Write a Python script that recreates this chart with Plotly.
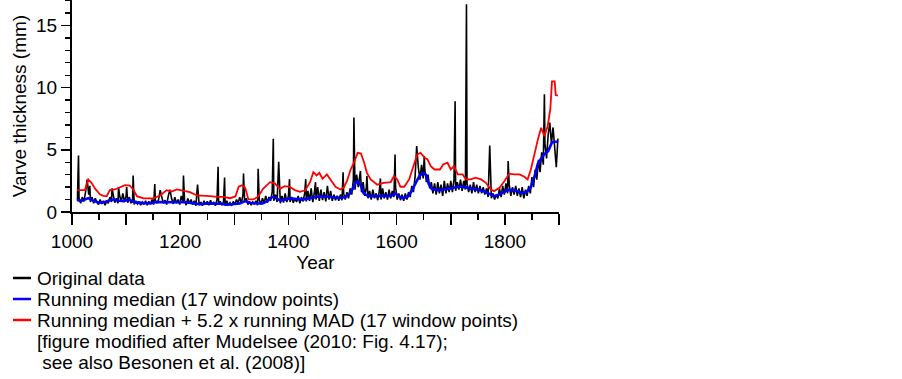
import plotly.graph_objects as go

# ---------------- data ----------------
BASE_YEARS = list(range(1010, 1899, 3))
BASE_VALUES = [
    0.9, 1.1, 0.7, 1.2, 0.85, 1.6, 1.0, 1.4, 0.8, 1.2,
    0.7, 1.1, 0.8, 0.6, 1.0, 0.65, 0.9, 0.55, 0.85, 0.7,
    1.2, 0.8, 1.4, 0.75, 1.1, 0.7, 1.3, 0.85, 1.5, 0.8,
    1.3, 0.75, 1.2, 0.7, 1.0, 0.6, 0.9, 0.65, 0.85, 0.55,
    0.8, 0.6, 0.9, 0.55, 0.85, 0.65, 1.0, 0.6, 0.95, 0.7,
    1.0, 0.65, 1.2, 0.7, 0.95, 0.6, 1.3, 0.75, 1.1, 0.65,
    1.2, 0.7, 1.0, 0.6, 1.3, 0.75, 0.9, 0.55, 1.1, 0.7,
    1.0, 0.6, 0.9, 0.5, 1.1, 0.55, 0.8, 0.5, 0.9, 0.6,
    0.85, 0.55, 0.95, 0.6, 0.8, 0.5, 1.0, 0.6, 0.85, 0.55,
    0.8, 0.5, 0.9, 0.55, 0.75, 0.5, 0.85, 0.6, 1.0, 0.7,
    1.2, 0.7, 1.4, 0.8, 1.1, 0.6, 0.85, 0.55, 0.8, 0.6,
    0.9, 0.55, 1.0, 0.6, 1.1, 0.7, 1.3, 0.75, 1.2, 0.9,
    1.6, 0.9, 1.4, 0.8, 1.2, 0.7, 1.3, 0.75, 1.5, 0.8,
    1.3, 0.8, 1.2, 0.75, 1.1, 0.8, 1.3, 0.7, 1.2, 0.85,
    1.5, 0.85, 1.7, 0.9, 1.9, 0.8, 1.6, 1.0, 2.0, 0.9,
    1.8, 0.95, 1.6, 0.85, 2.1, 1.0, 1.7, 0.9, 1.4, 0.95,
    1.3, 0.9, 1.4, 0.95, 1.5, 1.0, 1.6, 1.1, 1.9, 1.4,
    2.6, 1.8, 3.0, 2.0, 2.8, 1.6, 2.4, 1.3, 2.0, 1.1,
    1.7, 1.0, 1.8, 1.1, 1.5, 0.95, 1.7, 1.0, 1.9, 1.1,
    1.6, 1.0, 1.8, 1.1, 1.7, 1.2, 2.0, 1.0, 1.5, 0.95,
    1.4, 0.9, 1.5, 1.0, 1.6, 1.2, 2.1, 1.6, 2.8, 2.0,
    3.6, 2.6, 3.8, 2.7, 3.4, 2.4, 3.0, 1.9, 2.4, 1.5,
    2.3, 1.4, 2.4, 1.5, 2.2, 1.3, 2.5, 1.5, 2.3, 1.6,
    2.5, 1.6, 2.6, 1.7, 2.4, 1.8, 2.6, 1.7, 2.5, 1.8,
    2.3, 1.6, 2.2, 1.5, 2.4, 1.6, 2.2, 1.5, 2.1, 1.5,
    2.0, 1.4, 1.9, 1.2, 1.6, 1.1, 1.5, 1.0, 1.4, 1.1,
    1.9, 1.2, 2.1, 1.4, 2.3, 1.5, 2.2, 1.3, 2.0, 1.4,
    2.1, 1.3, 1.9, 1.2, 2.0, 1.1, 1.8, 1.3, 2.1, 1.5,
    2.8, 2.0, 3.4, 2.6, 4.2, 3.2, 4.8, 3.8, 5.5, 4.3,
    6.2, 7.2, 5.5, 6.8, 4.8, 3.6, 5.9,
]
SPIKE_YEARS = [1012, 1028, 1033, 1074, 1086, 1101, 1113, 1153, 1163, 1181,
               1206, 1232, 1270, 1282, 1317, 1344, 1372, 1382, 1402, 1432,
               1450, 1501, 1521, 1533, 1545, 1570, 1597, 1637, 1651, 1708,
               1729, 1772, 1806, 1873]
SPIKE_VALUES = [4.55, 2.6, 2.1, 1.9, 2.0, 2.0, 2.94, 2.24, 1.76, 1.8,
                2.94, 2.2, 3.64, 2.77, 3.1, 3.47, 5.89, 4.03, 2.64, 2.64,
                2.4, 3.2, 7.6, 3.3, 2.9, 2.7, 4.63, 5.3, 4.5, 8.9,
                16.7, 5.35, 4.1, 9.46]

MEDIAN_YEARS = [1010, 1020, 1030, 1040, 1050, 1060, 1070, 1076, 1085, 1095,
                1105, 1112, 1120, 1135, 1145, 1155, 1165, 1180, 1195, 1205,
                1215, 1225, 1237, 1250, 1262, 1275, 1287, 1300, 1310, 1320,
                1328, 1340, 1352, 1360, 1370, 1376, 1385, 1395, 1405, 1415,
                1425, 1440, 1450, 1458, 1470, 1480, 1495, 1505, 1512, 1518,
                1524, 1528, 1533, 1539, 1548, 1560, 1570, 1580, 1590, 1598,
                1604, 1612, 1620, 1628, 1636, 1642, 1648, 1654, 1659, 1665,
                1675, 1685, 1695, 1705, 1715, 1725, 1735, 1745, 1755, 1765,
                1772, 1780, 1787, 1795, 1805, 1817, 1825, 1832, 1840, 1848,
                1855, 1861, 1867, 1874, 1880, 1887, 1893, 1898]
MEDIAN_VALUES = [0.93, 0.93, 1.12, 0.9, 0.75, 0.78, 0.95, 1.0, 0.92, 0.88,
                 1.0, 0.85, 0.75, 0.72, 0.68, 0.8, 0.78, 0.75, 0.78, 0.8,
                 0.75, 0.72, 0.62, 0.68, 0.7, 0.66, 0.58, 0.62, 0.68, 0.88,
                 0.75, 0.7, 0.68, 0.85, 1.2, 1.15, 0.92, 1.0, 1.1, 1.05,
                 1.0, 1.1, 1.2, 1.27, 1.25, 1.18, 1.14, 1.2, 1.4, 1.8,
                 2.4, 2.45, 2.2, 1.5, 1.28, 1.3, 1.33, 1.3, 1.3, 1.49,
                 1.25, 1.12, 1.22, 1.7, 2.4, 2.9, 3.15, 3.0, 2.3, 1.85,
                 1.76, 1.8, 1.86, 1.95, 2.05, 2.0, 1.93, 1.85, 1.75, 1.6,
                 1.45, 1.27, 1.35, 1.55, 1.76, 1.76, 1.65, 1.52, 1.6, 2.0,
                 2.9, 3.9, 4.3, 4.7, 4.9, 5.6, 5.65, 5.65]

MAD_YEARS = [1010, 1024, 1027, 1030, 1036, 1043, 1052, 1058, 1064, 1070,
             1079, 1089, 1098, 1107, 1113, 1120, 1132, 1150, 1163, 1175,
             1184, 1194, 1206, 1218, 1231, 1243, 1255, 1268, 1280, 1292,
             1302, 1308, 1314, 1320, 1326, 1335, 1344, 1353, 1366, 1375,
             1384, 1393, 1402, 1412, 1421, 1431, 1440, 1446, 1452, 1457,
             1463, 1471, 1477, 1487, 1496, 1502, 1508, 1515, 1521, 1528,
             1534, 1540, 1545, 1552, 1564, 1576, 1589, 1595, 1601, 1607,
             1614, 1623, 1632, 1638, 1644, 1652, 1657, 1663, 1670, 1680,
             1686, 1694, 1700, 1706, 1713, 1722, 1728, 1737, 1746, 1756,
             1765, 1774, 1780, 1790, 1799, 1808, 1817, 1827, 1836, 1842,
             1848, 1854, 1861, 1867, 1873, 1879, 1884, 1887, 1892, 1894,
             1898]
MAD_VALUES = [1.76, 1.76, 2.2, 2.62, 2.35, 1.86, 1.41, 1.3, 1.27, 1.76,
              1.81, 2.03, 2.16, 2.13, 1.81, 1.27, 1.09, 1.09, 1.33, 1.76,
              1.65, 1.81, 1.73, 1.6, 1.33, 1.27, 1.27, 1.22, 1.22, 1.11,
              1.25, 2.03, 2.14, 1.95, 1.01, 1.01, 1.22, 1.86, 2.4, 2.3,
              1.86, 2.08, 2.03, 1.76, 1.62, 1.75, 2.4, 3.2, 2.94, 3.15,
              2.67, 3.02, 2.62, 2.03, 1.81, 1.95, 2.48, 3.42, 3.96, 4.76,
              4.7, 3.96, 3.15, 2.62, 2.2, 2.35, 2.4, 2.89, 2.62, 2.03,
              2.03, 2.62, 3.82, 4.63, 4.76, 4.36, 4.23, 3.69, 3.42, 3.42,
              3.82, 3.96, 3.42, 3.69, 3.02, 3.02, 2.62, 2.62, 2.76, 2.62,
              2.35, 1.81, 1.68, 1.95, 2.48, 3.08, 3.02, 3.02, 2.83, 2.62,
              3.42, 4.63, 5.84, 6.77, 6.1, 6.9, 8.3, 10.5, 10.5, 9.4,
              9.35]

X_TICK_VALUES = [1000, 1100, 1200, 1300, 1400, 1500, 1600, 1700, 1800, 1900]
X_TICK_LABELS = ["1000", "", "1200", "", "1400", "", "1600", "", "1800", ""]
Y_TICK_VALUES = [0, 5, 10, 15]
Y_TICK_LABELS = ["0", "5", "10", "15"]

LEGEND_LABELS = ["Original data",
                 "Running median (17 window points)",
                 "Running median + 5.2 x running MAD (17 window points)"]
NOTE_LINES = ["[figure modified after Mudelsee (2010: Fig. 4.17);",
              "\u00a0see also Besonen et al. (2008)]"]

# ---------------- build ----------------
black = dict(zip(BASE_YEARS, BASE_VALUES))
black.update(zip(SPIKE_YEARS, SPIKE_VALUES))
bx = sorted(black)
by = [black[k] for k in bx]

FONT = "Liberation Sans, Arial, sans-serif"
W, H = 902, 379
PL, PR, PT, PB = 72, 559, 0, 212  # plot area in px

fig = go.Figure()
fig.add_trace(go.Scatter(x=bx, y=by, mode="lines",
                         line=dict(color="#000000", width=1.6), name=LEGEND_LABELS[0]))
fig.add_trace(go.Scatter(x=MAD_YEARS, y=MAD_VALUES, mode="lines",
                         line=dict(color="#ff0000", width=1.8), name=LEGEND_LABELS[2]))
fig.add_trace(go.Scatter(x=MEDIAN_YEARS, y=MEDIAN_VALUES, mode="lines",
                         line=dict(color="#0000ff", width=2.6), name=LEGEND_LABELS[1]))


def px_x(p):
    return (p - PL) / (PR - PL)


def px_y(p):
    return (PB - p) / (PB - PT)


legend_colors = ["#000000", "#0000ff", "#ff0000"]
row_y = [278, 299, 320, 341, 362]
shapes = []
annotations = []
for i, lab in enumerate(LEGEND_LABELS):
    shapes.append(dict(type="line", xref="paper", yref="paper",
                       x0=px_x(13), x1=px_x(31), y0=px_y(row_y[i]), y1=px_y(row_y[i]),
                       line=dict(color=legend_colors[i], width=2.5)))
    annotations.append(dict(text=lab, xref="paper", yref="paper",
                            x=px_x(35), y=px_y(row_y[i]), xanchor="left", yanchor="middle",
                            showarrow=False, font=dict(size=19, color="#000", family=FONT)))
for j, line in enumerate(NOTE_LINES):
    annotations.append(dict(text=line, xref="paper", yref="paper",
                            x=px_x(35), y=px_y(row_y[3 + j]), xanchor="left", yanchor="middle",
                            showarrow=False, font=dict(size=19, color="#000", family=FONT)))

fig.update_layout(
    width=W, height=H,
    margin=dict(l=PL, r=W - PR, t=PT, b=H - PB, pad=0),
    paper_bgcolor="white", plot_bgcolor="white",
    showlegend=False,
    font=dict(family=FONT, size=19, color="#000"),
    shapes=shapes, annotations=annotations,
)
fig.update_xaxes(
    range=[1000, 1900], showgrid=False, zeroline=False,
    showline=True, linecolor="#000", linewidth=2,
    tickmode="array", tickvals=X_TICK_VALUES, ticktext=X_TICK_LABELS,
    ticks="outside", ticklen=11, tickwidth=1.6, tickcolor="#000",
    minor=dict(dtick=50, tick0=1000, ticks="outside", ticklen=6, tickwidth=1.4, tickcolor="#000"),
    tickfont=dict(size=19, family=FONT),
    title=dict(text="Year", font=dict(size=19, family=FONT), standoff=0),
    automargin=False,
)
fig.update_yaxes(
    range=[0, 17.05], showgrid=False, zeroline=False,
    showline=True, linecolor="#000", linewidth=2,
    tickmode="array", tickvals=Y_TICK_VALUES, ticktext=Y_TICK_LABELS,
    ticks="outside", ticklen=9, tickwidth=1.6, tickcolor="#000",
    minor=dict(dtick=1, tick0=0, ticks="outside", ticklen=5, tickwidth=1.4, tickcolor="#000"),
    tickfont=dict(size=19, family=FONT),
    title=dict(text="Varve thickness (mm)", font=dict(size=19, family=FONT), standoff=4),
    automargin=False,
)

fig.write_html("out.html",
               config={"displayModeBar": False, "staticPlot": True},
               post_script="document.body.style.margin='0';document.body.style.padding='0';")
